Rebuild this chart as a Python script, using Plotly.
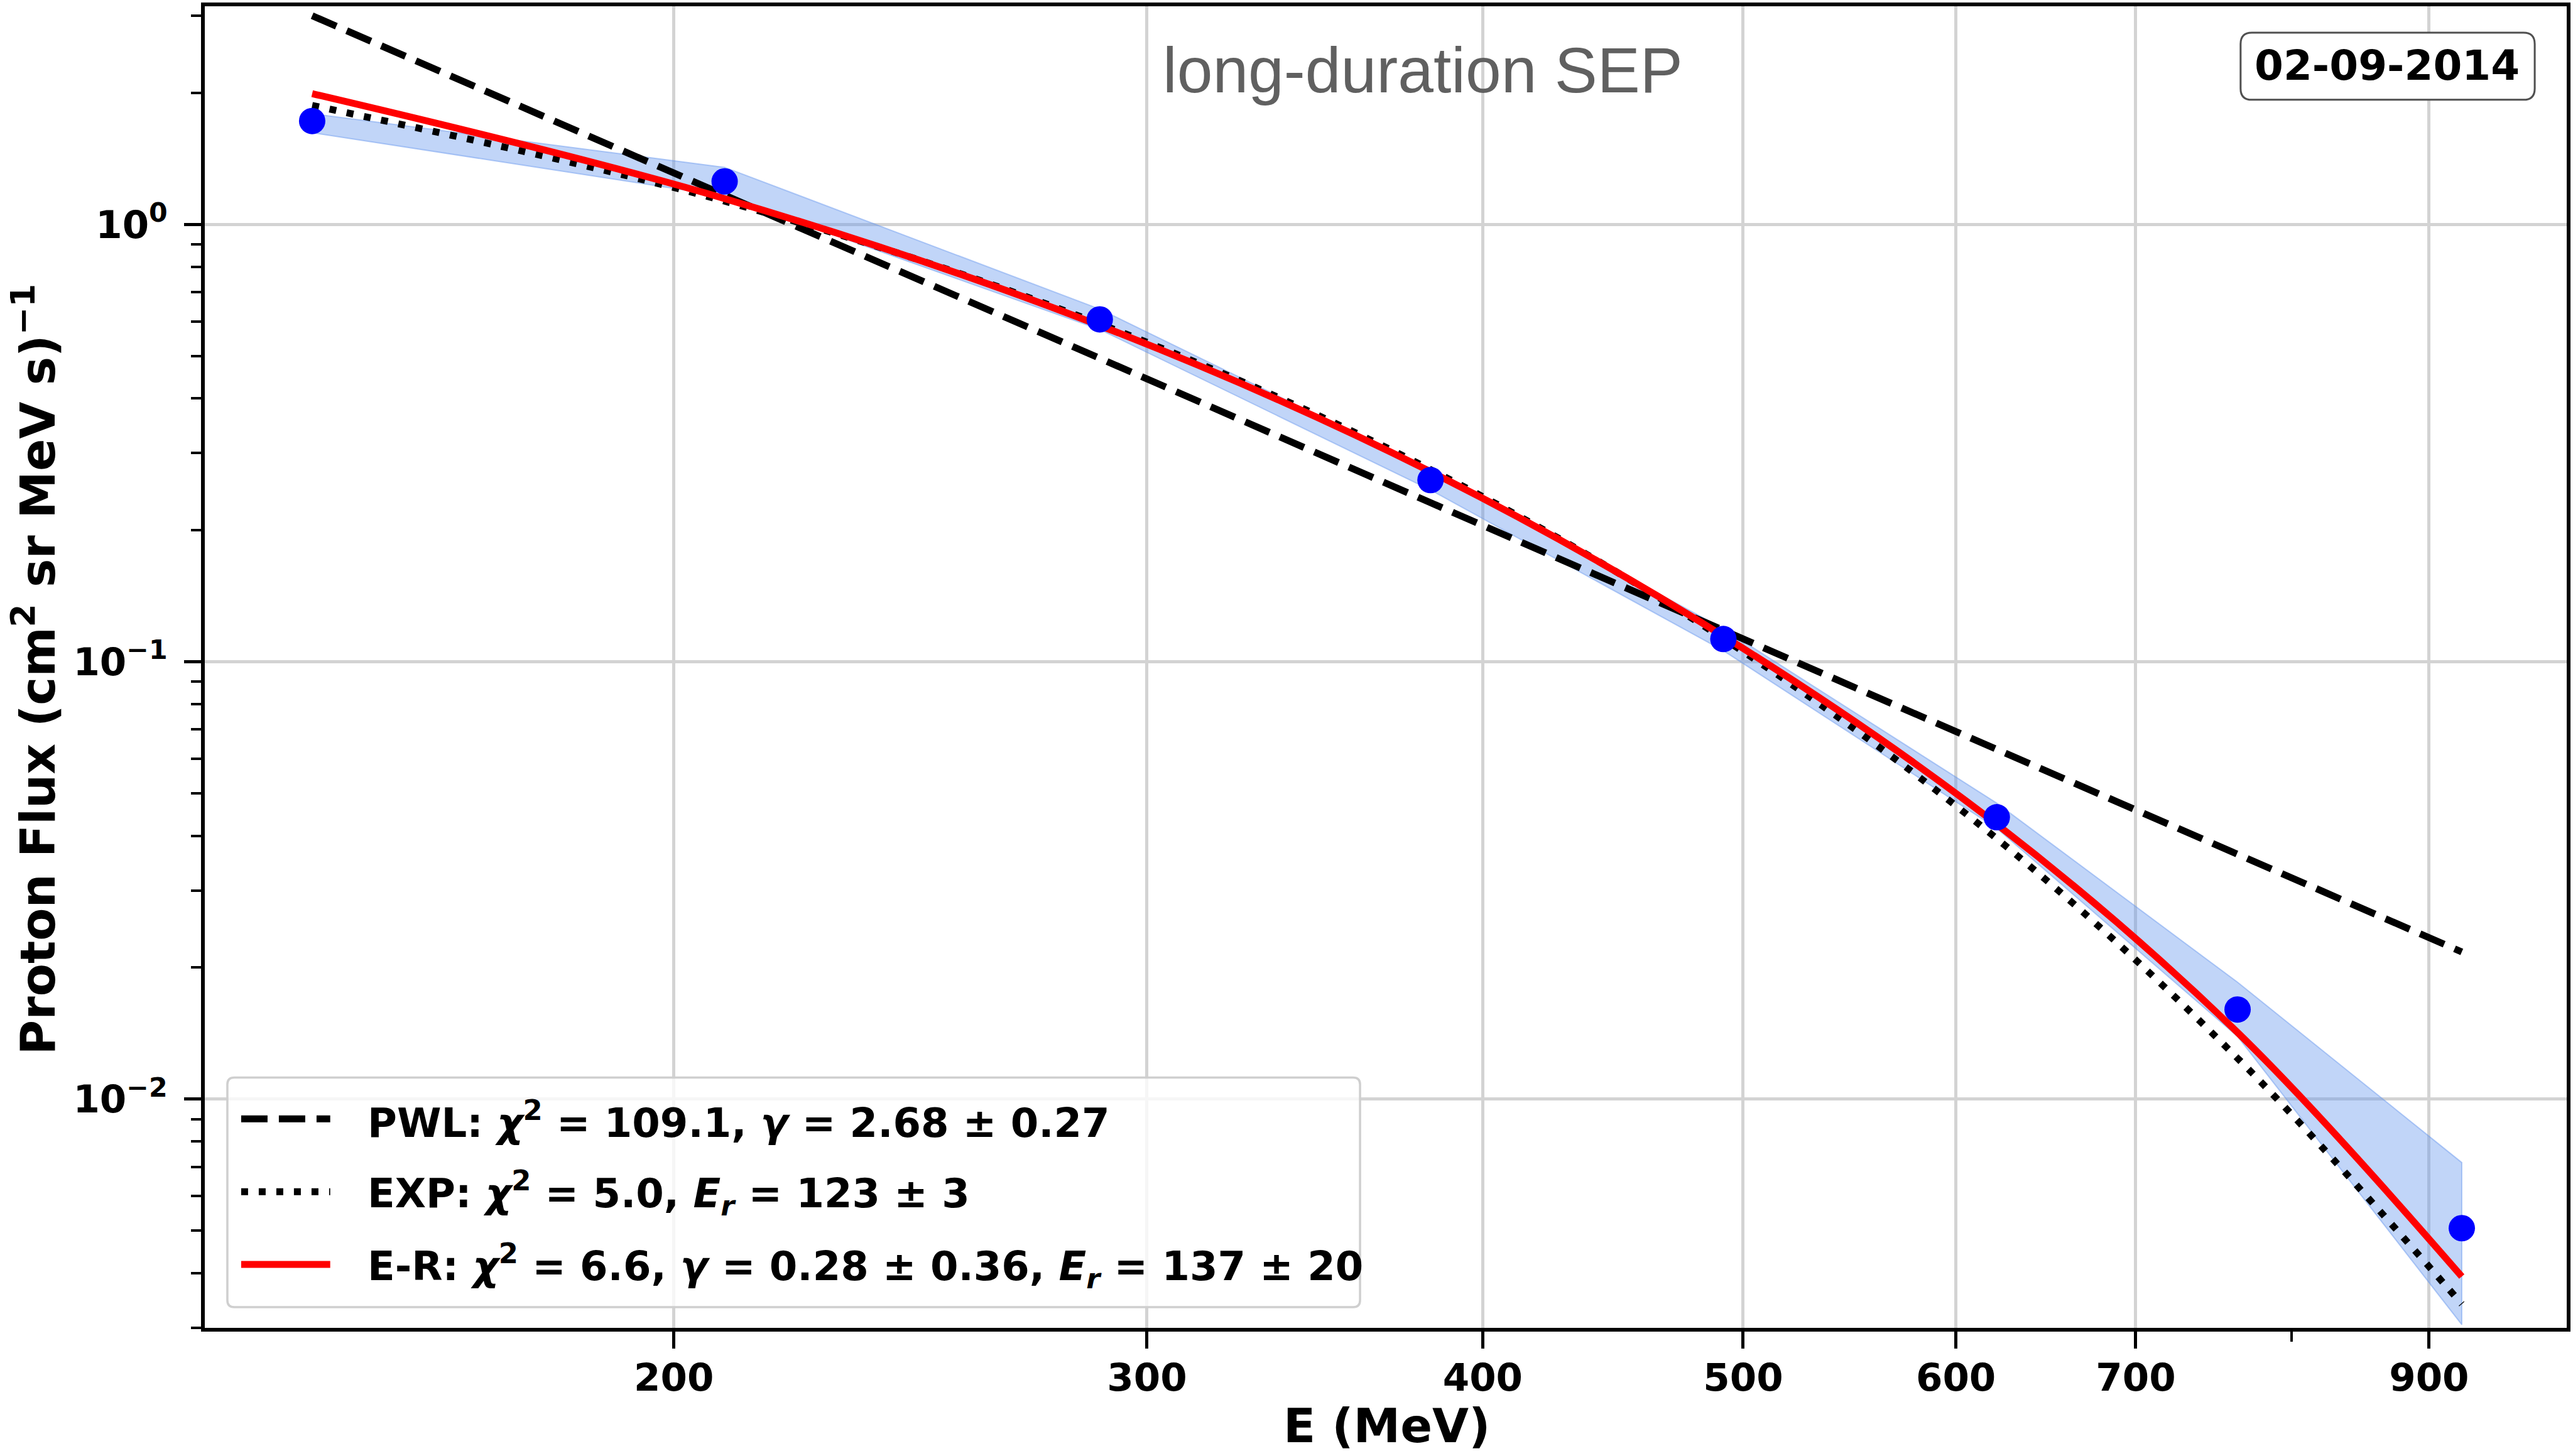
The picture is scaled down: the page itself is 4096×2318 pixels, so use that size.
import plotly.graph_objects as go

# ---------------- data ----------------
energy_mev = [146.7, 208.9, 288.1, 382.5, 491.6, 621.4, 763.8, 925.6]
flux_obs = [1.723, 1.254, 0.6065, 0.2602, 0.1127, 0.0441, 0.01603, 0.00507]
band_high = [1.79, 1.35, 0.64, 0.274, 0.119, 0.0475, 0.0185, 0.00716]
band_low = [1.62, 1.16, 0.575, 0.247, 0.106, 0.0416, 0.0139, 0.00305]

fit_pwl = [3.00, 1.17, 0.494, 0.231, 0.118, 0.063, 0.0362, 0.0217]
fit_exp = [1.87, 1.13, 0.592, 0.275, 0.113, 0.0394, 0.0124, 0.0034]
fit_er = [1.99, 1.145, 0.587, 0.272, 0.1145, 0.0425, 0.0142, 0.00393]

x_tickvals = [200, 300, 400, 500, 600, 700, 900]
x_ticktext = ["200", "300", "400", "500", "600", "700", "900"]
x_minor = [800]
y_tickvals = [0.01, 0.1, 1]
y_ticktext = ["10<sup>\u22122</sup>", "10<sup>\u22121</sup>", "10<sup>0</sup>"]
y_minor = [0.003, 0.004, 0.005, 0.006, 0.007, 0.008, 0.009,
           0.02, 0.03, 0.04, 0.05, 0.06, 0.07, 0.08, 0.09,
           0.2, 0.3, 0.4, 0.5, 0.6, 0.7, 0.8, 0.9, 2, 3]

legend_labels = [
    "<b>PWL: <i>\u03c7</i><sup>2</sup> = 109.1, <i>\u03b3</i> = 2.68 \u00b1 0.27</b>",
    "<b>EXP: <i>\u03c7</i><sup>2</sup> = 5.0, <i>E<sub>r</sub></i> = 123 \u00b1 3</b>",
    "<b>E-R: <i>\u03c7</i><sup>2</sup> = 6.6, <i>\u03b3</i> = 0.28 \u00b1 0.36, <i>E<sub>r</sub></i> = 137 \u00b1 20</b>",
]
title_text = "long-duration SEP"
date_text = "<b>02-09-2014</b>"
x_title = "<b>E (MeV)</b>"
y_title = "<b>Proton Flux (cm<sup>2</sup> sr MeV s)<sup>\u22121</sup></b>"

# ---------------- layout geometry (pixels) ----------------
W, H = 4096, 2318
ML, MR, MT, MB = 326, 4, 8, 204
PW, PH = W - ML - MR, H - MT - MB


def fx(px):
    return (px - ML) / PW


def fy(py):
    return (H - MB - py) / PH


FONT = "DejaVu Sans"
fig = go.Figure()

# uncertainty band
fig.add_trace(go.Scatter(
    x=energy_mev + energy_mev[::-1],
    y=band_high + band_low[::-1],
    fill="toself", fillcolor="rgba(100,149,237,0.40)",
    line=dict(color="rgba(100,149,237,0.45)", width=2),
    mode="lines", hoverinfo="skip", showlegend=False))

fig.add_trace(go.Scatter(x=energy_mev, y=fit_pwl, mode="lines",
                         line=dict(color="black", width=11, dash="42px,18px"),
                         showlegend=False))
fig.add_trace(go.Scatter(x=energy_mev, y=fit_exp, mode="lines",
                         line=dict(color="black", width=11, dash="11px,17px", shape="spline"),
                         showlegend=False))
fig.add_trace(go.Scatter(x=energy_mev, y=fit_er, mode="lines",
                         line=dict(color="#ff0000", width=11, shape="spline"),
                         showlegend=False))
fig.add_trace(go.Scatter(x=energy_mev, y=flux_obs, mode="markers",
                         marker=dict(color="#0000ff", size=42, line=dict(width=0)),
                         showlegend=False))

axis_common = dict(
    showline=True, linecolor="black", linewidth=6, mirror=True,
    ticks="outside", ticklen=27, tickwidth=5, tickcolor="black",
    showgrid=True, gridcolor="#d3d3d3", gridwidth=4.5,
    zeroline=False,
    tickfont=dict(family=FONT, size=61, color="black", weight="bold"),
)

fig.update_xaxes(type="log", range=[2.12647, 3.00547],
                 tickmode="array", tickvals=x_tickvals, ticktext=x_ticktext,
                 minor=dict(tickmode="array", tickvals=x_minor, ticks="outside",
                            ticklen=16, tickwidth=4, tickcolor="black", showgrid=False),
                 ticklabelstandoff=-6,
                 **axis_common)
fig.update_yaxes(type="log", range=[-2.523, 0.4986],
                 tickmode="array", tickvals=y_tickvals, ticktext=y_ticktext,
                 minor=dict(tickmode="array", tickvals=y_minor, ticks="outside",
                            ticklen=16, tickwidth=4, tickcolor="black", showgrid=False),
                 ticklabelstandoff=14,
                 **axis_common)

shapes = []
annotations = []


def rounded_rect(x0, y0, x1, y1, r):
    rx, ry = r / PW, r / PH
    X0, X1 = fx(x0), fx(x1)
    Y0, Y1 = fy(y0), fy(y1)  # Y0 top, Y1 bottom in paper
    return (f"M {X0+rx},{Y0} L {X1-rx},{Y0} Q {X1},{Y0} {X1},{Y0-ry} "
            f"L {X1},{Y1+ry} Q {X1},{Y1} {X1-rx},{Y1} L {X0+rx},{Y1} "
            f"Q {X0},{Y1} {X0},{Y1+ry} L {X0},{Y0-ry} Q {X0},{Y0} {X0+rx},{Y0} Z")


# legend box
shapes.append(dict(type="path", xref="paper", yref="paper",
                   path=rounded_rect(362, 1715, 2168, 2081, 11),
                   fillcolor="rgba(255,255,255,0.8)",
                   line=dict(color="#cfcfcf", width=3.5), layer="above"))
row_y = [1781, 1897, 2013]
handle_styles = [dict(color="black", width=11, dash="42px,18px"),
                 dict(color="black", width=11, dash="11px,17px"),
                 dict(color="#ff0000", width=11)]
for ry_, st, lab in zip(row_y, handle_styles, legend_labels):
    shapes.append(dict(type="line", xref="paper", yref="paper",
                       x0=fx(384), x1=fx(526), y0=fy(ry_), y1=fy(ry_),
                       line=st, layer="above"))
    annotations.append(dict(x=fx(583), y=fy(ry_ + 2), xref="paper", yref="paper",
                            text=lab, showarrow=False, xanchor="left", yanchor="middle",
                            font=dict(family=FONT, size=64, color="black")))

# date box
shapes.append(dict(type="path", xref="paper", yref="paper",
                   path=rounded_rect(3572, 50, 4041, 157, 18),
                   fillcolor="white", line=dict(color="#505050", width=3), layer="above"))
annotations.append(dict(x=fx(3806), y=fy(103), xref="paper", yref="paper",
                        text=date_text, showarrow=False, xanchor="center", yanchor="middle",
                        font=dict(family=FONT, size=66, color="black")))

# title inside axes
annotations.append(dict(x=fx(2268), y=fy(110), xref="paper", yref="paper",
                        text=title_text, showarrow=False, xanchor="center", yanchor="middle",
                        font=dict(family="Liberation Sans", size=102, color="#606060")))

# axis titles
annotations.append(dict(x=fx(2211), y=fy(2270), xref="paper", yref="paper",
                        text=x_title, showarrow=False, xanchor="center", yanchor="middle",
                        font=dict(family=FONT, size=75, color="black")))
annotations.append(dict(x=fx(56), y=fy(1064), xref="paper", yref="paper",
                        text=y_title, showarrow=False, xanchor="center", yanchor="middle",
                        textangle=-90,
                        font=dict(family=FONT, size=76, color="black")))

fig.update_layout(
    width=W, height=H,
    margin=dict(l=ML, r=MR, t=MT, b=MB),
    paper_bgcolor="white", plot_bgcolor="white",
    showlegend=False,
    shapes=shapes, annotations=annotations,
)

fig.write_html("out.html")
